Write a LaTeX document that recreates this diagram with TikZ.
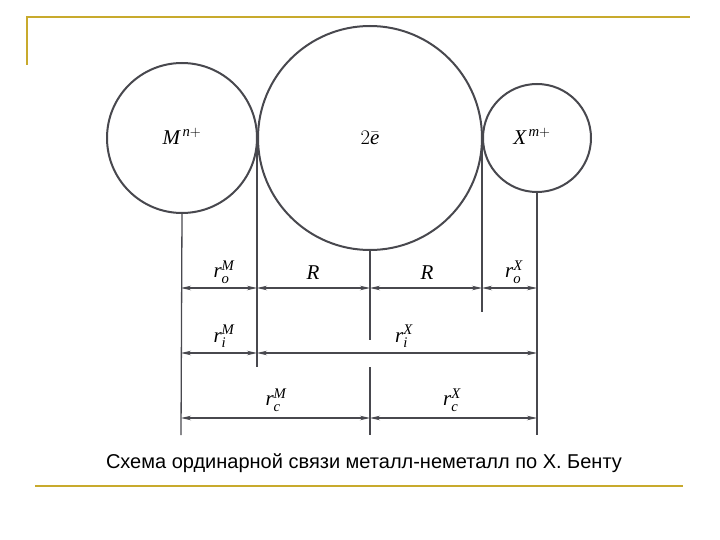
\documentclass[tikz,border=0pt]{standalone}
\usepackage{fontspec}
\setmainfont{Liberation Serif}
\newfontfamily\capfont{Liberation Sans}
\usetikzlibrary{arrows.meta}
\definecolor{gold}{RGB}{200,170,45}
\definecolor{ink}{RGB}{72,72,78}
\newcommand{\mi}[1]{\mathit{#1}}
\begin{document}
\begin{tikzpicture}[x=1pt,y=-1pt,
  atom/.style={draw=ink, line width=2pt, circle, inner sep=0pt, font=\fontsize{21}{24}\selectfont},
  guide/.style={draw=ink, line width=1.3pt},
  dim/.style={draw=ink, line width=1.1pt, {Stealth[length=10pt,width=4.5pt]}-{Stealth[length=10pt,width=4.5pt]}},
  lab/.style={font=\fontsize{21}{24}\selectfont, inner sep=0pt},
  frame/.style={draw=gold, line width=1.8pt}]
\useasboundingbox (0,0) rectangle (720,540);
% frame lines
\draw[frame] (27,65) -- (27,17) -- (690,17);
\draw[frame] (35,486) -- (683,486);
% atoms
\node[atom, minimum size=150pt] (M) at (182,138) {\raisebox{3pt}{$\mi{M}^{\,\mi{n}+}$}};
\node[atom, minimum size=224pt] (B) at (370,138) {$2\bar{\mi{e}}$};
\node[atom, minimum size=108pt] (X) at (537,138) {\hspace*{-10pt}\raisebox{3pt}{$\mi{X}^{\,\mi{m}+}$}};
% guide line ends
\coordinate (gM) at (181,435);
\coordinate (gL) at (257,367);
\coordinate (gC1) at (370,340);
\coordinate (gC2t) at (370,367);
\coordinate (gC2) at (370,435);
\coordinate (gR) at (482,312);
\coordinate (gX) at (537,435);
\draw[guide] (M.south) -- (gM);
\draw[guide] (257,140) -- (gL);
\draw[guide] (B.south) -- (gC1);
\draw[guide] (gC2t) -- (gC2);
\draw[guide] (482,140) -- (gR);
\draw[guide] (X.south) -- (gX);
% row 1
\coordinate (a1) at (181,288);
\coordinate (a2) at (257,288);
\coordinate (a3) at (370,288);
\coordinate (a4) at (482,288);
\coordinate (a5) at (537,288);
\draw[dim] (a1) -- (a2);
\draw[dim] (a2) -- (a3);
\draw[dim] (a3) -- (a4);
\draw[dim] (a4) -- (a5);
\node[lab] (t1) at (224,272) {$\mi{r}_{\mi{o}}^{\mi{M}}$};
\node[lab] (t2) at (313,273) {$\mi{R}$};
\node[lab] (t3) at (427,273) {$\mi{R}$};
\node[lab] (t4) at (514,272) {$\mi{r}_{\mi{o}}^{\mi{X}}$};
% row 2
\coordinate (b1) at (181,353);
\coordinate (b2) at (257,353);
\coordinate (b3) at (537,353);
\draw[dim] (b1) -- (b2);
\draw[dim] (b2) -- (b3);
\node[lab] (t5) at (224,336) {$\mi{r}_{\mi{i}}^{\mi{M}}$};
\node[lab] (t6) at (404,336) {$\mi{r}_{\mi{i}}^{\mi{X}}$};
% row 3
\coordinate (c1) at (181,418);
\coordinate (c2) at (370,418);
\coordinate (c3) at (537,418);
\draw[dim] (c1) -- (c2);
\draw[dim] (c2) -- (c3);
\node[lab] (t7) at (276,400) {$\mi{r}_{\mi{c}}^{\mi{M}}$};
\node[lab] (t8) at (452,400) {$\mi{r}_{\mi{c}}^{\mi{X}}$};
% caption
\node[font=\capfont\fontsize{20}{23}\selectfont, inner sep=0pt] (cap) at (364,463) {Схема ординарной связи металл-неметалл по Х. Бенту};
\end{tikzpicture}
\end{document}
